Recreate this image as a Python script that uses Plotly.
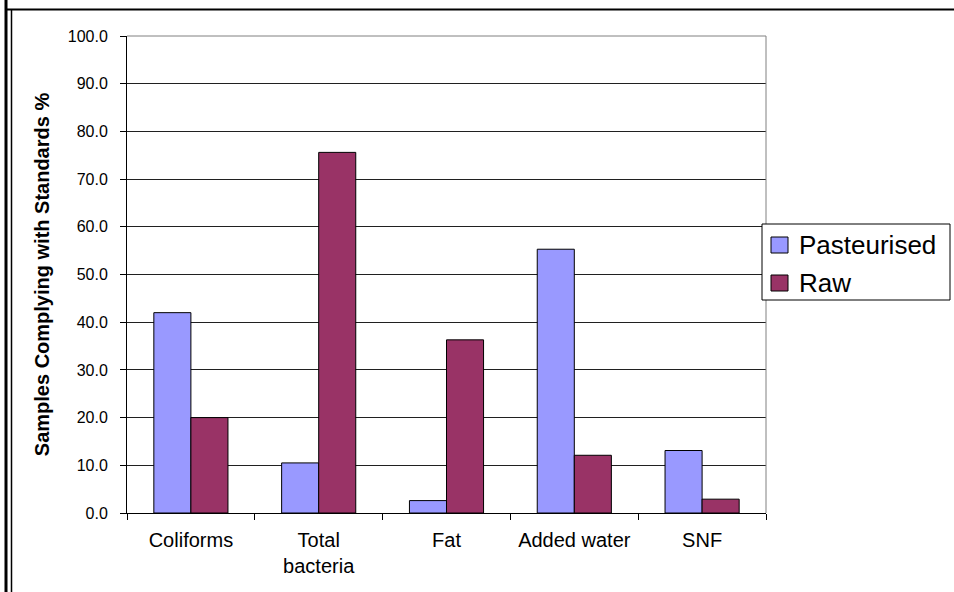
import plotly.graph_objects as go

# Share of milk samples complying with standards, by test
categories = ["Coliforms", "Total<br>bacteria", "Fat", "Added water", "SNF"]
pasteurised = [42.0, 10.5, 2.6, 55.3, 13.1]
raw = [20.0, 75.6, 36.3, 12.1, 2.9]
y_ticks = [0, 10, 20, 30, 40, 50, 60, 70, 80, 90, 100]

series_names = ["Pasteurised", "Raw"]
series_colors = ["#9999FF", "#993366"]

W, H = 954, 592
L, R, T, B = 127, 766, 36, 513  # plot area edges in pixels


def px(x):
    return (x - L) / (R - L)


def py(y):
    return (B - y) / (B - T)


FONT = "Arial, Liberation Sans, sans-serif"

fig = go.Figure()
for name, vals, color in zip(series_names, [pasteurised, raw], series_colors):
    fig.add_trace(go.Bar(
        name=name, x=categories, y=vals, showlegend=False,
        marker=dict(color=color, line=dict(color="#000000", width=1)),
    ))

shapes = [
    # plot area frame (top/right)
    dict(type="line", xref="paper", yref="paper", x0=0, x1=1, y0=1, y1=1,
         line=dict(color="#808080", width=1)),
    dict(type="line", xref="paper", yref="paper", x0=1, x1=1, y0=0, y1=1,
         line=dict(color="#808080", width=1)),
    # chart border
    dict(type="line", xref="paper", yref="paper", x0=px(6), x1=px(6),
         y0=py(0), y1=py(H), line=dict(color="#000000", width=3)),
    dict(type="line", xref="paper", yref="paper", x0=px(11.5), x1=px(11.5),
         y0=py(10), y1=py(H), line=dict(color="#000000", width=1.5)),
    dict(type="line", xref="paper", yref="paper", x0=px(5), x1=px(W),
         y0=py(9.5), y1=py(9.5), line=dict(color="#000000", width=2)),
    # legend box
    dict(type="rect", xref="paper", yref="paper", x0=px(762), x1=px(950),
         y0=py(224), y1=py(300), fillcolor="white",
         line=dict(color="#000000", width=1)),
]

annotations = []
# legend entries: swatch + label
for i, (name, color) in enumerate(zip(series_names, series_colors)):
    cy = 245 + i * 38
    shapes.append(dict(
        type="rect", xref="paper", yref="paper",
        x0=px(771), x1=px(788), y0=py(cy - 8), y1=py(cy + 8),
        fillcolor=color, line=dict(color="#000000", width=1),
    ))
    annotations.append(dict(
        text=name, xref="paper", yref="paper", x=px(797), y=py(cy),
        xanchor="left", yanchor="middle", showarrow=False,
        font=dict(size=26, family=FONT, color="#000000"),
    ))

fig.update_layout(
    width=W, height=H,
    margin=dict(l=L, r=W - R, t=T, b=H - B, pad=0),
    paper_bgcolor="white", plot_bgcolor="white",
    barmode="group", bargap=0.42, bargroupgap=0,
    font=dict(family=FONT, color="#000000"),
    showlegend=False,
    shapes=shapes,
    annotations=annotations,
    xaxis=dict(
        type="category", tickson="boundaries", ticks="outside", ticklen=6,
        tickcolor="#000000", showline=True, linecolor="#000000", linewidth=1,
        tickfont=dict(size=20, family=FONT), showgrid=False,
        range=[-0.5, 4.5], ticklabelstandoff=9,
    ),
    yaxis=dict(
        range=[0, 100], tickvals=y_ticks, tickformat=".1f",
        ticks="outside", ticklen=6, tickcolor="#000000",
        showline=True, linecolor="#000000", linewidth=1,
        showgrid=True, gridcolor="#202020", gridwidth=1,
        zeroline=False, tickfont=dict(size=16, family=FONT),
        ticklabelstandoff=9,
        title=dict(text="<b>Samples Complying with Standards %</b>",
                   font=dict(size=20, family=FONT), standoff=12),
    ),
)

fig.write_html("out.html")
